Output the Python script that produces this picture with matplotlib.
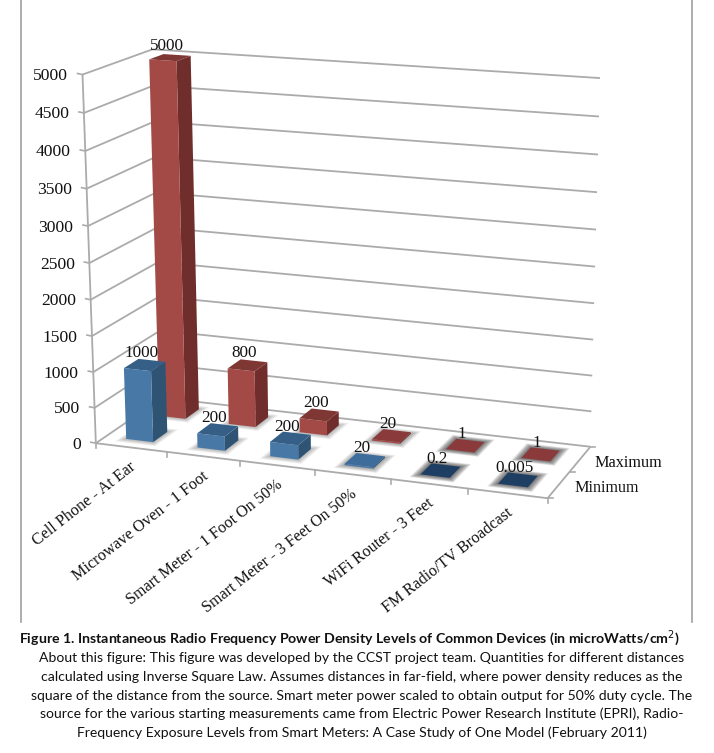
import matplotlib
matplotlib.use("Agg")
import matplotlib.pyplot as plt
import numpy as np
from matplotlib.patches import Polygon

# chart data
categories = [
    "Cell Phone - At Ear",
    "Microwave Oven - 1 Foot",
    "Smart Meter - 1 Foot On 50%",
    "Smart Meter - 3 Feet On 50%",
    "WiFi Router - 3 Feet",
    "FM Radio/TV Broadcast",
]
series_names = ["Minimum", "Maximum"]
minimum = [1000, 200, 200, 20, 0.2, 0.005]
maximum = [5000, 800, 200, 20, 1, 1]
value_ticks = list(range(0, 5001, 500))

title = "Figure 1. Instantaneous Radio Frequency Power Density Levels of Common Devices (in microWatts/cm$^{2}$)"
caption = [
    "About this figure: This figure was developed by the CCST project team. Quantities for different distances",
    "calculated using Inverse Square Law. Assumes distances in far-field, where power density reduces as the",
    "square of the distance from the source. Smart meter power scaled to obtain output for 50% duty cycle. The",
    "source for the various starting measurements came from Electric Power Research Institute (EPRI), Radio-",
    "Frequency Exposure Levels from Smart Meters: A Case Study of One Model (February 2011)",
]

# box corners as seen in the picture: (category, depth, value) -> pixel
box_world = [(0, 0, 0), (0, 0, 5000), (6, 0, 0), (0, 2, 0), (0, 2, 5000), (6, 2, 0), (6, 2, 5000)]
box_pixel = [(95, 443), (83, 75), (548, 498), (163, 398), (152, 49), (590, 447), (600, 78)]

SERIF = "Liberation Serif"
BAR_W = 0.19
BAR_D = 0.43
BAR_SHIFT = 0.48
GRID = "#ababab"
COLORS = {
    "Minimum": ("#4878a6", "#2f5373", "#355f87"),
    "Maximum": ("#a34a46", "#6f2e2c", "#7f3734"),
}
LOW_TOP = {"Minimum": "#3f6d9b", "Maximum": "#8a3a3a"}
DARK_TOP = {"Minimum": "#1f3e63", "Maximum": "#8a3a3a"}


def fit_camera():
    rows, rhs = [], []
    for (x, y, z), (u, v) in zip(box_world, box_pixel):
        z = z / 5000
        rows.append([x, y, z, 1, 0, 0, 0, 0, -u * x, -u * y, -u * z])
        rows.append([0, 0, 0, 0, x, y, z, 1, -v * x, -v * y, -v * z])
        rhs += [u, v]
    p = np.linalg.lstsq(np.array(rows, float), np.array(rhs, float), rcond=None)[0]
    return np.append(p, 1).reshape(3, 4)


CAM = fit_camera()


def proj(x, y, z):
    h = CAM @ np.array([x, y, z / 5000, 1])
    return h[0] / h[2], h[1] / h[2]


def line3d(ax, a, b, **kw):
    pa, pb = proj(*a), proj(*b)
    ax.plot([pa[0], pb[0]], [pa[1], pb[1]], color=GRID, lw=1.3, solid_capstyle="butt", **kw)


def draw_bar(ax, idx, row, value, name):
    x0, x1 = idx + BAR_SHIFT - BAR_W, idx + BAR_SHIFT + BAR_W
    yc = row + 0.5
    y0, y1 = yc - BAR_D / 2, yc + BAR_D / 2
    front, side, top = COLORS[name]
    if value < 10:
        top = DARK_TOP[name]
    elif value < 100:
        top = LOW_TOP[name]

    # soft shadow on the floor, flat bars get a darker halo
    if value > 100:
        strength = 0.022
    elif value > 10:
        strength = 0.03
    else:
        strength = 0.06
    for grow in np.linspace(0.14, 0.005, 16):
        gx, gy = grow * 0.7, grow
        shadow = [proj(x0 - gx, y0 - gy, 0), proj(x1 + gx, y0 - gy, 0),
                  proj(x1 + gx, y1 + gy, 0), proj(x0 - gx, y1 + gy, 0)]
        ax.add_patch(Polygon(shadow, fc="#303030", ec="none", alpha=strength, zorder=3 + row * -0.1))

    zo = 6 - row + idx * 0.01
    ax.add_patch(Polygon([proj(x1, y0, 0), proj(x1, y1, 0), proj(x1, y1, value), proj(x1, y0, value)],
                         fc=side, ec="none", zorder=zo))
    ax.add_patch(Polygon([proj(x0, y0, 0), proj(x1, y0, 0), proj(x1, y0, value), proj(x0, y0, value)],
                         fc=front, ec="none", zorder=zo))
    ax.add_patch(Polygon([proj(x0, y0, value), proj(x1, y0, value), proj(x1, y1, value), proj(x0, y1, value)],
                         fc=top, ec="none", zorder=zo))

    lx, ly = proj(idx + 0.5, yc, value)
    ax.text(lx - 5, ly - 4, f"{value:g}", ha="center", va="bottom", fontsize=12.3, family=SERIF,
            color="#111111", zorder=10)


fig = plt.figure(figsize=(7.14, 7.53), dpi=100)
ax = fig.add_axes([0, 0, 1, 1])
ax.set_xlim(0, 714)
ax.set_ylim(753, 0)
ax.axis("off")

# page frame
ax.plot([21, 21], [0, 622], color="#a0a0a0", lw=1.2)
ax.plot([692, 692], [0, 622], color="#a0a0a0", lw=1.2)

# walls
for v in value_ticks:
    line3d(ax, (0, 0, v), (0, 2, v), zorder=1)
    line3d(ax, (0, 2, v), (6, 2, v), zorder=1)
    px, py = proj(0, 0, v)
    ax.plot([px - 5, px], [py - 1, py], color=GRID, lw=1.2, zorder=1)
    ax.text(px - 14.5, py + 1.5, str(v), ha="right", va="center", fontsize=12.6, family=SERIF, color="#111111")
line3d(ax, (0, 0, 0), (0, 0, 5000), zorder=1)

# floor edges and ticks
line3d(ax, (0, 0, 0), (6, 0, 0), zorder=2)
line3d(ax, (6, 0, 0), (6, 2, 0), zorder=2)
for i in range(7):
    px, py = proj(i, 0, 0)
    ax.plot([px, px], [py, py + 5], color=GRID, lw=1.2, zorder=2)
for r in range(3):
    px, py = proj(6, r, 0)
    ax.plot([px, px + 5], [py, py], color=GRID, lw=1.2, zorder=2)

# bars, back row first
for row, (name, values) in reversed(list(enumerate(zip(series_names, [minimum, maximum])))):
    for idx, value in enumerate(values):
        draw_bar(ax, idx, row, value, name)

for i, label in enumerate(categories):
    px, py = proj(i + 0.5, 0, 0)
    ax.text(px + 3, py + 18, label, rotation=38, ha="right", va="center", rotation_mode="anchor",
            fontsize=11.6, family=SERIF, color="#111111")

ax.text(574, 488, series_names[0], ha="left", va="center", fontsize=11.6, family=SERIF, color="#111111")
ax.text(594, 463, series_names[1], ha="left", va="center", fontsize=11.7, family=SERIF, color="#111111")

# caption
ax.text(349, 638, title, ha="center", va="center", fontsize=10.2, family="Lato", weight="bold", color="#111111")
for line, y in zip(caption, [658, 677, 696, 714, 733]):
    ax.text(362, y, line, ha="center", va="center", fontsize=10.1, family="Lato", color="#111111")

fig.savefig("out.png", dpi=100)
